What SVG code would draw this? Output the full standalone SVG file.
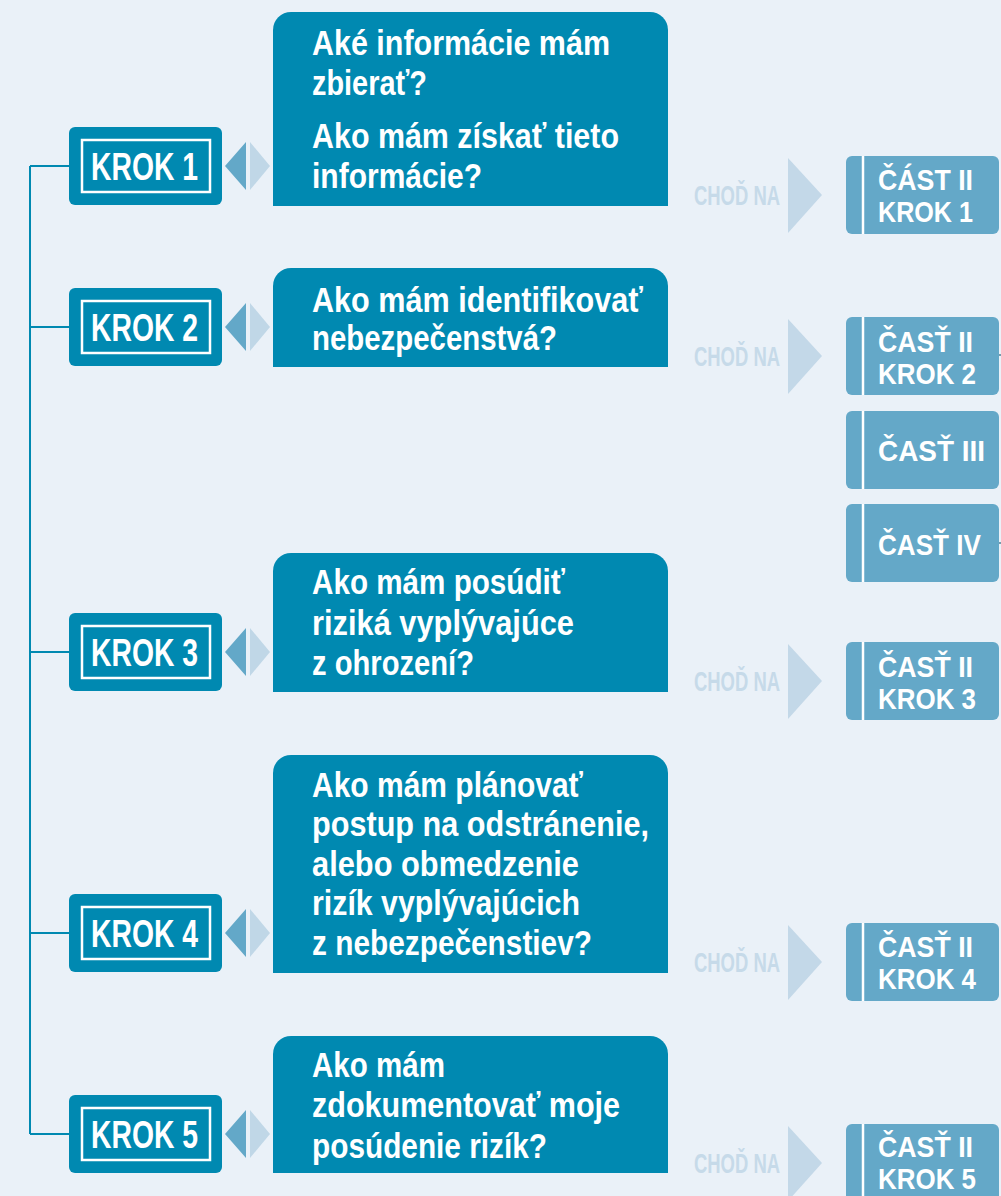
<svg xmlns="http://www.w3.org/2000/svg" width="1001" height="1196" viewBox="0 0 1001 1196">
<style>
.bg{fill:#EAF1F8}
.krok{fill:#0089B1}
.inner{fill:none;stroke:#FFFFFF;stroke-width:2.5}
.kt{font-family:"Liberation Sans",Arial,sans-serif;font-weight:bold;font-size:38px;fill:#FFFFFF}
.q{fill:#0089B1}
.qt{font-family:"Liberation Sans",Arial,sans-serif;font-weight:bold;font-size:35px;fill:#FFFFFF}
.dl{fill:#63A8C8}
.dr{fill:#C0D7E7}
.go{font-family:"Liberation Sans",Arial,sans-serif;font-weight:bold;font-size:27px;fill:#C6DAE9}
.tri{fill:#C3D8E8}
.part{fill:#64A8C8}
.sep{stroke:#FFFFFF;stroke-width:2.5}
.pt{font-family:"Liberation Sans",Arial,sans-serif;font-weight:bold;font-size:30px;fill:#FFFFFF}
.conn{fill:none;stroke:#0089B1;stroke-width:2}
.tick{stroke:#4F7F95;stroke-width:1.5}
</style>
<rect class="bg" x="0" y="0" width="1001" height="1196"/>

<g id="connectors">
<path class="conn" d="M30,166 V1134 M30,166 H69 M30,327 H69 M30,652 H69 M30,933 H69 M30,1134 H69"/>
<line class="tick" x1="997" y1="355" x2="1001" y2="355"/>
<line class="tick" x1="997" y1="543" x2="1001" y2="543"/>
</g>

<!-- KROK boxes -->
<g id="krok1">
<rect class="krok" x="69" y="127" width="153" height="78" rx="6"/>
<rect class="inner" x="82" y="140" width="128" height="52"/>
<text class="kt" x="91" y="180" textLength="107" lengthAdjust="spacingAndGlyphs">KROK 1</text>
<polygon class="dl" points="225,166 246,142 246,190"/>
<polygon class="dr" points="250,142 270,166 250,190"/>
</g>
<g id="krok2">
<rect class="krok" x="69" y="288" width="153" height="78" rx="6"/>
<rect class="inner" x="82" y="301" width="128" height="52"/>
<text class="kt" x="91" y="341" textLength="107" lengthAdjust="spacingAndGlyphs">KROK 2</text>
<polygon class="dl" points="225,327 246,303 246,351"/>
<polygon class="dr" points="250,303 270,327 250,351"/>
</g>
<g id="krok3">
<rect class="krok" x="69" y="613" width="153" height="78" rx="6"/>
<rect class="inner" x="82" y="626" width="128" height="52"/>
<text class="kt" x="91" y="666" textLength="107" lengthAdjust="spacingAndGlyphs">KROK 3</text>
<polygon class="dl" points="225,652 246,628 246,676"/>
<polygon class="dr" points="250,628 270,652 250,676"/>
</g>
<g id="krok4">
<rect class="krok" x="69" y="894" width="153" height="78" rx="6"/>
<rect class="inner" x="82" y="907" width="128" height="52"/>
<text class="kt" x="91" y="947" textLength="107" lengthAdjust="spacingAndGlyphs">KROK 4</text>
<polygon class="dl" points="225,933 246,909 246,957"/>
<polygon class="dr" points="250,909 270,933 250,957"/>
</g>
<g id="krok5">
<rect class="krok" x="69" y="1095" width="153" height="78" rx="6"/>
<rect class="inner" x="82" y="1108" width="128" height="52"/>
<text class="kt" x="91" y="1148" textLength="107" lengthAdjust="spacingAndGlyphs">KROK 5</text>
<polygon class="dl" points="225,1134 246,1110 246,1158"/>
<polygon class="dr" points="250,1110 270,1134 250,1158"/>
</g>

<!-- Question boxes -->
<g id="q1">
<path class="q" d="M273,206 V30 A18,18 0 0 1 291,12 H650 A18,18 0 0 1 668,30 V206 Z"/>
<text class="qt" x="312" y="55" textLength="298" lengthAdjust="spacingAndGlyphs">Aké informácie mám</text>
<text class="qt" x="312" y="95" textLength="115" lengthAdjust="spacingAndGlyphs">zbierať?</text>
<text class="qt" x="312" y="148" textLength="307" lengthAdjust="spacingAndGlyphs">Ako mám získať tieto</text>
<text class="qt" x="312" y="188" textLength="170" lengthAdjust="spacingAndGlyphs">informácie?</text>
</g>
<g id="q2">
<path class="q" d="M273,367 V286 A18,18 0 0 1 291,268 H650 A18,18 0 0 1 668,286 V367 Z"/>
<text class="qt" x="312" y="312" textLength="331" lengthAdjust="spacingAndGlyphs">Ako mám identifikovať</text>
<text class="qt" x="312" y="350" textLength="245" lengthAdjust="spacingAndGlyphs">nebezpečenstvá?</text>
</g>
<g id="q3">
<path class="q" d="M273,692 V571 A18,18 0 0 1 291,553 H650 A18,18 0 0 1 668,571 V692 Z"/>
<text class="qt" x="312" y="594" textLength="253" lengthAdjust="spacingAndGlyphs">Ako mám posúdiť</text>
<text class="qt" x="312" y="635" textLength="262" lengthAdjust="spacingAndGlyphs">riziká vyplývajúce</text>
<text class="qt" x="312" y="675" textLength="162" lengthAdjust="spacingAndGlyphs">z ohrození?</text>
</g>
<g id="q4">
<path class="q" d="M273,973 V773 A18,18 0 0 1 291,755 H650 A18,18 0 0 1 668,773 V973 Z"/>
<text class="qt" x="312" y="797" textLength="271" lengthAdjust="spacingAndGlyphs">Ako mám plánovať</text>
<text class="qt" x="312" y="836" textLength="337" lengthAdjust="spacingAndGlyphs">postup na odstránenie,</text>
<text class="qt" x="312" y="876" textLength="267" lengthAdjust="spacingAndGlyphs">alebo obmedzenie</text>
<text class="qt" x="312" y="915" textLength="268" lengthAdjust="spacingAndGlyphs">rizík vyplývajúcich</text>
<text class="qt" x="312" y="955" textLength="280" lengthAdjust="spacingAndGlyphs">z nebezpečenstiev?</text>
</g>
<g id="q5">
<path class="q" d="M273,1173 V1054 A18,18 0 0 1 291,1036 H650 A18,18 0 0 1 668,1054 V1173 Z"/>
<text class="qt" x="312" y="1077" textLength="133" lengthAdjust="spacingAndGlyphs">Ako mám</text>
<text class="qt" x="312" y="1117" textLength="308" lengthAdjust="spacingAndGlyphs">zdokumentovať moje</text>
<text class="qt" x="312" y="1158" textLength="235" lengthAdjust="spacingAndGlyphs">posúdenie rizík?</text>
</g>

<!-- Go-to arrows -->
<g id="go1">
<text class="go" x="694" y="205" textLength="86" lengthAdjust="spacingAndGlyphs">CHOĎ NA</text>
<polygon class="tri" points="788,158 822,195 788,233"/>
</g>
<g id="go2">
<text class="go" x="694" y="366" textLength="86" lengthAdjust="spacingAndGlyphs">CHOĎ NA</text>
<polygon class="tri" points="788,319 822,356 788,394"/>
</g>
<g id="go3">
<text class="go" x="694" y="691" textLength="86" lengthAdjust="spacingAndGlyphs">CHOĎ NA</text>
<polygon class="tri" points="788,644 822,681 788,719"/>
</g>
<g id="go4">
<text class="go" x="694" y="972" textLength="86" lengthAdjust="spacingAndGlyphs">CHOĎ NA</text>
<polygon class="tri" points="788,925 822,962 788,1000"/>
</g>
<g id="go5">
<text class="go" x="694" y="1173" textLength="86" lengthAdjust="spacingAndGlyphs">CHOĎ NA</text>
<polygon class="tri" points="788,1126 822,1163 788,1201"/>
</g>

<!-- Part boxes -->
<g id="part2k1">
<rect class="part" x="846" y="156" width="153" height="78" rx="6"/>
<line class="sep" x1="863" y1="156" x2="863" y2="234"/>
<text class="pt" x="878" y="190" textLength="95" lengthAdjust="spacingAndGlyphs">ČÁST II</text>
<text class="pt" x="878" y="222" textLength="95" lengthAdjust="spacingAndGlyphs">KROK 1</text>
</g>
<g id="part2k2">
<rect class="part" x="846" y="317" width="153" height="78" rx="6"/>
<line class="sep" x1="863" y1="317" x2="863" y2="395"/>
<text class="pt" x="878" y="352" textLength="95" lengthAdjust="spacingAndGlyphs">ČASŤ II</text>
<text class="pt" x="878" y="384" textLength="98" lengthAdjust="spacingAndGlyphs">KROK 2</text>
</g>
<g id="part3">
<rect class="part" x="846" y="411" width="153" height="78" rx="6"/>
<line class="sep" x1="863" y1="411" x2="863" y2="489"/>
<text class="pt" x="878" y="461" textLength="107" lengthAdjust="spacingAndGlyphs">ČASŤ III</text>
</g>
<g id="part4">
<rect class="part" x="846" y="504" width="153" height="78" rx="6"/>
<line class="sep" x1="863" y1="504" x2="863" y2="582"/>
<text class="pt" x="878" y="555" textLength="103" lengthAdjust="spacingAndGlyphs">ČASŤ IV</text>
</g>
<g id="part2k3">
<rect class="part" x="846" y="642" width="153" height="78" rx="6"/>
<line class="sep" x1="863" y1="642" x2="863" y2="720"/>
<text class="pt" x="878" y="677" textLength="95" lengthAdjust="spacingAndGlyphs">ČASŤ II</text>
<text class="pt" x="878" y="709" textLength="98" lengthAdjust="spacingAndGlyphs">KROK 3</text>
</g>
<g id="part2k4">
<rect class="part" x="846" y="923" width="153" height="78" rx="6"/>
<line class="sep" x1="863" y1="923" x2="863" y2="1001"/>
<text class="pt" x="878" y="957" textLength="95" lengthAdjust="spacingAndGlyphs">ČASŤ II</text>
<text class="pt" x="878" y="989" textLength="98" lengthAdjust="spacingAndGlyphs">KROK 4</text>
</g>
<g id="part2k5">
<rect class="part" x="846" y="1124" width="153" height="78" rx="6"/>
<line class="sep" x1="863" y1="1124" x2="863" y2="1202"/>
<text class="pt" x="878" y="1157" textLength="95" lengthAdjust="spacingAndGlyphs">ČASŤ II</text>
<text class="pt" x="878" y="1189" textLength="98" lengthAdjust="spacingAndGlyphs">KROK 5</text>
</g>
</svg>
